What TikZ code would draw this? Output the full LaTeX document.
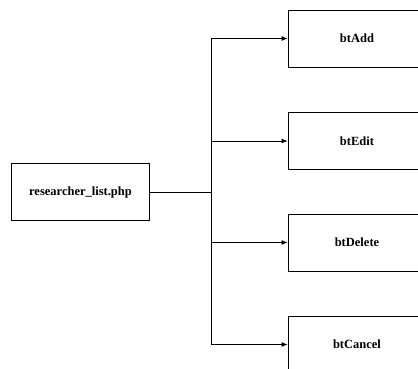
\documentclass[tikz,border=0pt]{standalone}
\usepackage{fontspec}
\setmainfont{Liberation Serif}
\usetikzlibrary{arrows.meta}
\begin{document}
\begin{tikzpicture}[x=1pt,y=-1pt,
  boxst/.style={draw=black,line width=0.8pt,rectangle,minimum width=138pt,minimum height=57pt,inner sep=0pt,font=\fontsize{12.5}{15}\selectfont\bfseries},
  conn/.style={draw=black,line width=0.8pt},
  arr/.style={conn,-{Latex[length=6pt,width=5pt]}}]
\useasboundingbox (0,0) rectangle (418,369);
\clip (0,0) rectangle (418,369);
\node[boxst] (L) at (80.5,192) {researcher\_list.php};
\node[boxst] (A) at (357,38.5) {btAdd};
\node[boxst] (E) at (357,141) {btEdit};
\node[boxst] (D) at (357,242.5) {btDelete};
\node[boxst] (C) at (357,344.5) {btCancel};
\coordinate (j) at (211,192);
\draw[conn] (L.east) -- (j);
\draw[arr] (j) |- (A.west);
\draw[arr] (j) |- (E.west);
\draw[arr] (j) |- (D.west);
\draw[arr] (j) |- (C.west);
\end{tikzpicture}
\end{document}
